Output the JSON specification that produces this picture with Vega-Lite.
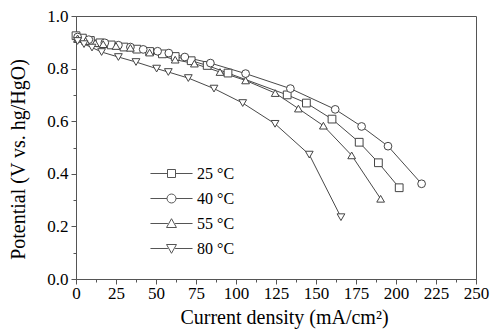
{
  "$schema": "https://vega.github.io/schema/vega-lite/v6.json",
  "width": 400,
  "height": 263,
  "autosize": {"type": "none"},
  "padding": {"left": 76, "top": 16, "right": 15, "bottom": 54},
  "config": {
    "view": {"stroke": "#555", "strokeWidth": 1},
    "font": "Liberation Serif",
    "style": {"guide-label": {"font": "Liberation Serif"}, "guide-title": {"font": "Liberation Serif"}},
    "axis": {"domainColor": "#555", "tickColor": "#555", "labelColor": "black", "titleColor": "black", "grid": false, "labelFont": "Liberation Serif", "titleFont": "Liberation Serif", "labelFontSize": 17, "titleFontSize": 20, "titleFontWeight": "normal"},
    "legend": {"labelFont": "Liberation Serif"}
  },
  "data": {"values": [
    {"I": 0, "V": 0.925, "T": "25 °C"}, {"I": 4, "V": 0.916, "T": "25 °C"}, {"I": 9, "V": 0.907, "T": "25 °C"}, {"I": 15, "V": 0.898, "T": "25 °C"}, {"I": 22, "V": 0.89, "T": "25 °C"}, {"I": 30, "V": 0.882, "T": "25 °C"}, {"I": 38, "V": 0.874, "T": "25 °C"}, {"I": 46, "V": 0.865, "T": "25 °C"}, {"I": 54, "V": 0.856, "T": "25 °C"}, {"I": 62, "V": 0.846, "T": "25 °C"}, {"I": 72, "V": 0.83, "T": "25 °C"}, {"I": 82, "V": 0.812, "T": "25 °C"}, {"I": 95, "V": 0.783, "T": "25 °C"}, {"I": 132, "V": 0.70, "T": "25 °C"}, {"I": 144, "V": 0.669, "T": "25 °C"}, {"I": 160, "V": 0.608, "T": "25 °C"}, {"I": 177, "V": 0.52, "T": "25 °C"}, {"I": 189, "V": 0.442, "T": "25 °C"}, {"I": 202, "V": 0.347, "T": "25 °C"},
    {"I": 1, "V": 0.92, "T": "40 °C"}, {"I": 8, "V": 0.91, "T": "40 °C"}, {"I": 18, "V": 0.898, "T": "40 °C"}, {"I": 26.5, "V": 0.889, "T": "40 °C"}, {"I": 34, "V": 0.882, "T": "40 °C"}, {"I": 42, "V": 0.873, "T": "40 °C"}, {"I": 51, "V": 0.866, "T": "40 °C"}, {"I": 58, "V": 0.859, "T": "40 °C"}, {"I": 68, "V": 0.844, "T": "40 °C"}, {"I": 84, "V": 0.821, "T": "40 °C"}, {"I": 106, "V": 0.781, "T": "40 °C"}, {"I": 134, "V": 0.724, "T": "40 °C"}, {"I": 162, "V": 0.645, "T": "40 °C"}, {"I": 178.5, "V": 0.58, "T": "40 °C"}, {"I": 195, "V": 0.505, "T": "40 °C"}, {"I": 216, "V": 0.362, "T": "40 °C"},
    {"I": 1, "V": 0.915, "T": "55 °C"}, {"I": 6, "V": 0.905, "T": "55 °C"}, {"I": 12, "V": 0.897, "T": "55 °C"}, {"I": 17, "V": 0.893, "T": "55 °C"}, {"I": 25, "V": 0.886, "T": "55 °C"}, {"I": 34, "V": 0.879, "T": "55 °C"}, {"I": 46, "V": 0.861, "T": "55 °C"}, {"I": 62, "V": 0.834, "T": "55 °C"}, {"I": 74, "V": 0.819, "T": "55 °C"}, {"I": 90, "V": 0.787, "T": "55 °C"}, {"I": 106, "V": 0.755, "T": "55 °C"}, {"I": 124.5, "V": 0.707, "T": "55 °C"}, {"I": 139, "V": 0.648, "T": "55 °C"}, {"I": 154.6, "V": 0.583, "T": "55 °C"}, {"I": 172.3, "V": 0.47, "T": "55 °C"}, {"I": 190.4, "V": 0.305, "T": "55 °C"},
    {"I": 1, "V": 0.905, "T": "80 °C"}, {"I": 5, "V": 0.893, "T": "80 °C"}, {"I": 10, "V": 0.88, "T": "80 °C"}, {"I": 16, "V": 0.863, "T": "80 °C"}, {"I": 26.5, "V": 0.844, "T": "80 °C"}, {"I": 37.5, "V": 0.825, "T": "80 °C"}, {"I": 50.4, "V": 0.80, "T": "80 °C"}, {"I": 57.7, "V": 0.787, "T": "80 °C"}, {"I": 70.2, "V": 0.764, "T": "80 °C"}, {"I": 86.25, "V": 0.724, "T": "80 °C"}, {"I": 104.2, "V": 0.669, "T": "80 °C"}, {"I": 124.4, "V": 0.59, "T": "80 °C"}, {"I": 145.8, "V": 0.473, "T": "80 °C"}, {"I": 165.6, "V": 0.235, "T": "80 °C"}
  ]},
  "encoding": {
    "x": {"field": "I", "type": "quantitative", "scale": {"domain": [0, 250], "nice": false},
      "axis": {"title": "Current density (mA/cm²)", "titleX": 208, "labelFont": "Liberation Serif", "titleFont": "Liberation Serif", "values": [0,12.5,25,37.5,50,62.5,75,87.5,100,112.5,125,137.5,150,162.5,175,187.5,200,212.5,225,237.5,250],
        "labelExpr": "datum.value % 25 == 0 ? datum.label : ''", "tickSize": {"condition": {"test": "datum.value % 25 != 0", "value": 3}, "value": 5}, "labelPadding": 1, "titlePadding": 6, "labelFlush": false}},
    "y": {"field": "V", "type": "quantitative", "scale": {"domain": [0, 1], "nice": false},
      "axis": {"title": "Potential (V vs. hg/HgO)", "titleY": 143, "labelFont": "Liberation Serif", "titleFont": "Liberation Serif", "values": [0,0.1,0.2,0.3,0.4,0.5,0.6,0.7,0.8,0.9,1.0],
        "labelExpr": "round(datum.value*10) % 2 == 0 ? format(datum.value, '.1f') : ''", "tickSize": {"condition": {"test": "round(datum.value*10) % 2 != 0", "value": 3}, "value": 5}, "labelPadding": 3, "titlePadding": 18, "labelFlush": false}}
  },
  "layer": [
    {"mark": {"type": "line", "color": "#333", "strokeWidth": 0.9}, "encoding": {"detail": {"field": "T"}}},
    {"mark": {"type": "point", "filled": false, "fill": "white", "fillOpacity": 1, "stroke": "#444", "strokeWidth": 1, "size": 60, "opacity": 1},
      "encoding": {"shape": {"field": "T", "type": "nominal",
        "scale": {"domain": ["25 °C", "40 °C", "55 °C", "80 °C"], "range": ["square", "circle", "triangle-up", "triangle-down"]},
        "legend": null}}
    },
    {"mark": {"type": "point", "filled": false, "size": 0, "opacity": 1, "stroke": "#444"},
      "encoding": {"shape": {"field": "T", "type": "nominal",
        "scale": {"domain": ["25 °C", "40 °C", "55 °C", "80 °C"], "range": [
          "M-2.63,0H-0.5M0.5,0H2.63M-0.5,-0.5H0.5V0.5H-0.5Z",
          "M-2.63,0H-0.56M0.56,0H2.63M0.56,0A0.56,0.56 0 1,1 -0.56,0A0.56,0.56 0 1,1 0.56,0Z",
          "M-2.63,0H-0.45M0.45,0H2.63M0,-0.6L0.62,0.5L-0.62,0.5Z",
          "M-2.63,0H-0.45M0.45,0H2.63M0,0.6L0.62,-0.5L-0.62,-0.5Z"]},
        "legend": {"title": null, "orient": "none", "legendX": 87, "legendY": 149, "padding": 0, "symbolSize": 256, "symbolStrokeWidth": 1, "symbolStrokeColor": "#555", "symbolFillColor": "white", "symbolOpacity": 1, "labelFontSize": 16, "labelOffset": 17, "rowPadding": 8, "labelColor": "black", "labelFont": "Liberation Serif"}}}
    }
  ],
  "resolve": {"scale": {"shape": "independent"}, "legend": {"shape": "independent"}}
}
